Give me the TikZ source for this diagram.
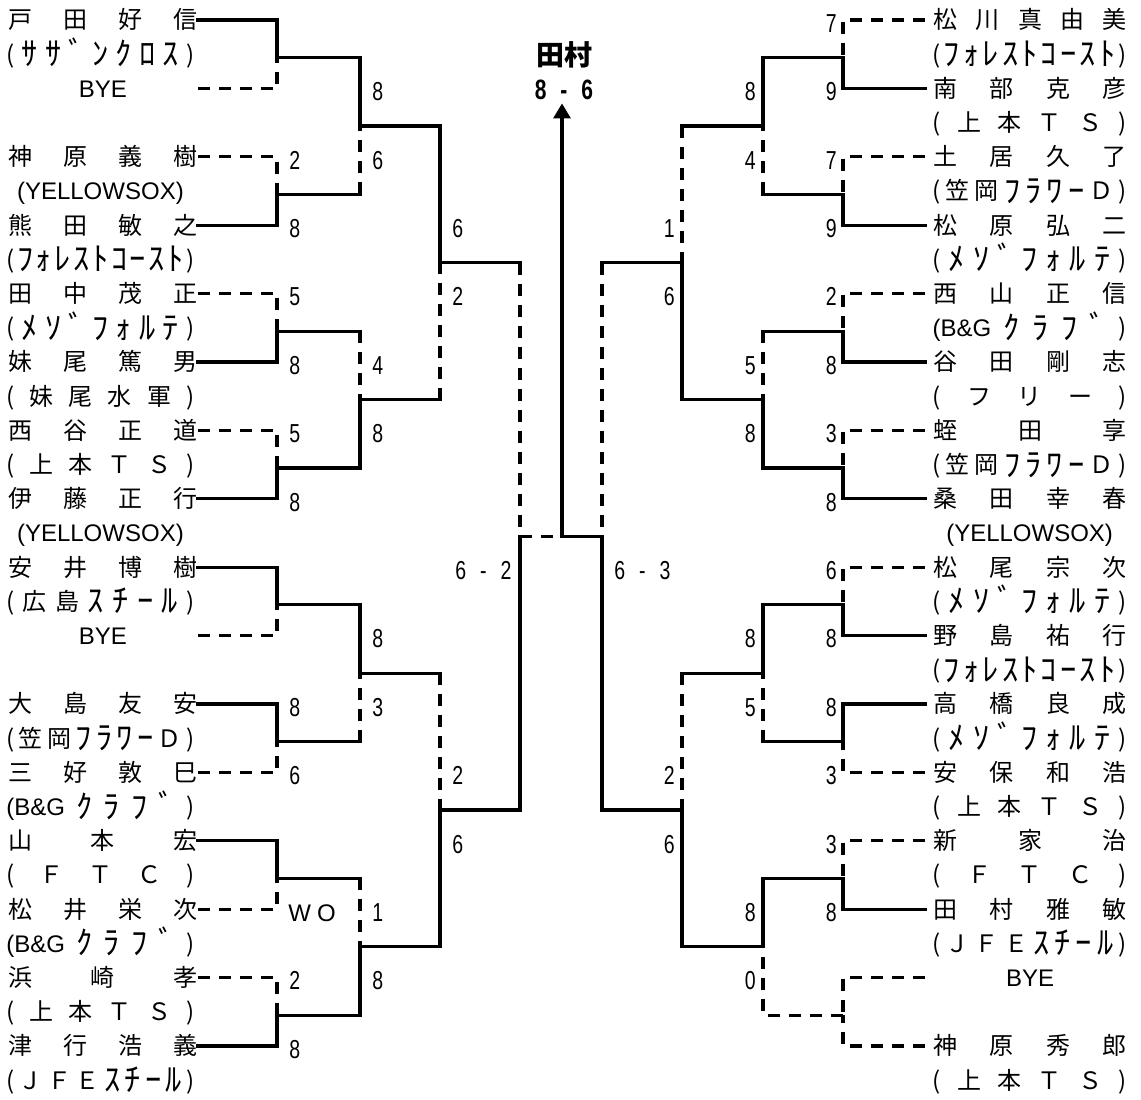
\documentclass[tikz,border=0pt]{standalone}
\usepackage{fontspec}
\setmainfont{Noto Sans CJK JP}
\newfontfamily\latinf{Liberation Sans}
\newfontfamily\numf[FakeStretch=0.75]{Liberation Sans}
\newfontfamily\hkfont[Scale=1.35]{Noto Sans CJK JP}
\usetikzlibrary{arrows.meta}

% spread the letters of a name over the whole box
\newcommand\spreadtext[1]{\makebox[\linewidth]{\sprfirst#1\relax}}
\def\sprput#1{\ifcat\relax\noexpand#1#1\else\ifnum`#1>"FF60 \raisebox{-1.3pt}{\hkfont#1}\else#1\fi\fi}
\def\sprfirst#1{\ifx\relax#1\else\sprput#1\expandafter\sprrest\fi}
\def\sprrest#1{\ifx\relax#1\else\hfill\sprput#1\expandafter\sprrest\fi}
\newcommand\bandg{{\latinf(B\&G}}

\tikzset{
	won/.style={
			line width=1.6pt,
			line cap=rect
		},
	lost/.style={
			line width=1.6pt,
			dash pattern=on 6pt off 4.5pt
		},
	lname/.style={
			anchor=west,
			inner sep=0pt,
			text width=94.5pt,
			align=center,
			text height=10pt,
			text depth=1.2pt,
			font=\fontsize{12}{14}\selectfont
		},
	rname/.style={
			lname,
			anchor=east,
			inner xsep=4pt,
			text width=96.5pt
		},
	lteam/.style={
			lname,
			text width=94pt
		},
	rteam/.style={
			lname,
			anchor=east,
			text width=97pt
		},
	lnum/.style={
			anchor=west,
			inner sep=0pt,
			text height=9.3pt,
			text depth=0pt,
			yshift=-1.5pt,
			font=\numf\fontsize{13}{13}\selectfont
		},
	rnum/.style={
			lnum,
			anchor=east
		}
}

\begin{document}
\begin{tikzpicture}[x=0.5pt, y=-17.1pt]
\useasboundingbox (0,-0.585) rectangle (1141,31.55);

% left players
\node[lname] (L0) at (8,0) {\spreadtext{戸田好信}};
\node[lteam] (lt1) at (6,1) {\spreadtext{(ｻｻﾞﾝｸﾛｽ)}};
\node[lname] (L2) at (8,2) {\latinf BYE};
\node[lname] (L4) at (8,4) {\spreadtext{神原義樹}};
\node[lteam] (lt5) at (6,5) {\latinf (YELLOWSOX)};
\node[lname] (L6) at (8,6) {\spreadtext{熊田敏之}};
\node[lteam] (lt7) at (6,7) {\spreadtext{(ﾌｫﾚｽﾄｺｰｽﾄ)}};
\node[lname] (L8) at (8,8) {\spreadtext{田中茂正}};
\node[lteam] (lt9) at (6,9) {\spreadtext{(ﾒｿﾞﾌｫﾙﾃ)}};
\node[lname] (L10) at (8,10) {\spreadtext{妹尾篤男}};
\node[lteam] (lt11) at (6,11) {\spreadtext{(妹尾水軍)}};
\node[lname] (L12) at (8,12) {\spreadtext{西谷正道}};
\node[lteam] (lt13) at (6,13) {\spreadtext{(上本ＴＳ)}};
\node[lname] (L14) at (8,14) {\spreadtext{伊藤正行}};
\node[lteam] (lt15) at (6,15) {\latinf (YELLOWSOX)};
\node[lname] (L16) at (8,16) {\spreadtext{安井博樹}};
\node[lteam] (lt17) at (6,17) {\spreadtext{(広島ｽﾁｰﾙ)}};
\node[lname] (L18) at (8,18) {\latinf BYE};
\node[lname] (L20) at (8,20) {\spreadtext{大島友安}};
\node[lteam] (lt21) at (6,21) {\spreadtext{(笠岡ﾌﾗﾜｰＤ)}};
\node[lname] (L22) at (8,22) {\spreadtext{三好敦巳}};
\node[lteam] (lt23) at (6,23) {\spreadtext{\bandg ｸﾗﾌﾞ)}};
\node[lname] (L24) at (8,24) {\spreadtext{山本宏}};
\node[lteam] (lt25) at (6,25) {\spreadtext{(ＦＴＣ)}};
\node[lname] (L26) at (8,26) {\spreadtext{松井栄次}};
\node[lteam] (lt27) at (6,27) {\spreadtext{\bandg ｸﾗﾌﾞ)}};
\node[lname] (L28) at (8,28) {\spreadtext{浜崎孝}};
\node[lteam] (lt29) at (6,29) {\spreadtext{(上本ＴＳ)}};
\node[lname] (L30) at (8,30) {\spreadtext{津行浩義}};
\node[lteam] (lt31) at (6,31) {\spreadtext{(ＪＦＥｽﾁｰﾙ)}};

% right players
\node[rname] (R0) at (1135,0) {\spreadtext{松川真由美}};
\node[rteam] (rt1) at (1127,1) {\spreadtext{(ﾌｫﾚｽﾄｺｰｽﾄ)}};
\node[rname] (R2) at (1135,2) {\spreadtext{南部克彦}};
\node[rteam] (rt3) at (1127,3) {\spreadtext{(上本ＴＳ)}};
\node[rname] (R4) at (1135,4) {\spreadtext{土居久了}};
\node[rteam] (rt5) at (1127,5) {\spreadtext{(笠岡ﾌﾗﾜｰＤ)}};
\node[rname] (R6) at (1135,6) {\spreadtext{松原弘二}};
\node[rteam] (rt7) at (1127,7) {\spreadtext{(ﾒｿﾞﾌｫﾙﾃ)}};
\node[rname] (R8) at (1135,8) {\spreadtext{西山正信}};
\node[rteam] (rt9) at (1127,9) {\spreadtext{\bandg ｸﾗﾌﾞ)}};
\node[rname] (R10) at (1135,10) {\spreadtext{谷田剛志}};
\node[rteam] (rt11) at (1127,11) {\spreadtext{(フリー)}};
\node[rname] (R12) at (1135,12) {\spreadtext{蛭田享}};
\node[rteam] (rt13) at (1127,13) {\spreadtext{(笠岡ﾌﾗﾜｰＤ)}};
\node[rname] (R14) at (1135,14) {\spreadtext{桑田幸春}};
\node[rteam] (rt15) at (1127,15) {\latinf (YELLOWSOX)};
\node[rname] (R16) at (1135,16) {\spreadtext{松尾宗次}};
\node[rteam] (rt17) at (1127,17) {\spreadtext{(ﾒｿﾞﾌｫﾙﾃ)}};
\node[rname] (R18) at (1135,18) {\spreadtext{野島祐行}};
\node[rteam] (rt19) at (1127,19) {\spreadtext{(ﾌｫﾚｽﾄｺｰｽﾄ)}};
\node[rname] (R20) at (1135,20) {\spreadtext{高橋良成}};
\node[rteam] (rt21) at (1127,21) {\spreadtext{(ﾒｿﾞﾌｫﾙﾃ)}};
\node[rname] (R22) at (1135,22) {\spreadtext{安保和浩}};
\node[rteam] (rt23) at (1127,23) {\spreadtext{(上本ＴＳ)}};
\node[rname] (R24) at (1135,24) {\spreadtext{新家治}};
\node[rteam] (rt25) at (1127,25) {\spreadtext{(ＦＴＣ)}};
\node[rname] (R26) at (1135,26) {\spreadtext{田村雅敏}};
\node[rteam] (rt27) at (1127,27) {\spreadtext{(ＪＦＥｽﾁｰﾙ)}};
\node[rname] (R28) at (1135,28) {\latinf BYE};
\node[rname] (R30) at (1135,30) {\spreadtext{神原秀郎}};
\node[rteam] (rt31) at (1127,31) {\spreadtext{(上本ＴＳ)}};

% junctions
\coordinate (la1) at (277,1.1);
\coordinate (la5) at (277,5.1);
\coordinate (la9) at (277,9.1);
\coordinate (la13) at (277,13.1);
\coordinate (la17) at (277,17.1);
\coordinate (la21) at (277,21.1);
\coordinate (la25) at (277,25.1);
\coordinate (la29) at (277,29.1);
\coordinate (lb3) at (360,3.1);
\coordinate (lb11) at (360,11.1);
\coordinate (lb19) at (360,19.1);
\coordinate (lb27) at (360,27.1);
\coordinate (lc7) at (440,7.1);
\coordinate (lc23) at (440,23.1);
\coordinate (ld15) at (520,15.1);
\coordinate (fin) at (562,15.1);
\coordinate (rd15) at (602,15.1);
\coordinate (rc7) at (682,7.1);
\coordinate (rc23) at (682,23.1);
\coordinate (rb3) at (763,3.1);
\coordinate (rb11) at (763,11.1);
\coordinate (rb19) at (763,19.1);
\coordinate (rb27) at (763,27.1);
\coordinate (ra1) at (843,1.1);
\coordinate (ra5) at (843,5.1);
\coordinate (ra9) at (843,9.1);
\coordinate (ra13) at (843,13.1);
\coordinate (ra17) at (843,17.1);
\coordinate (ra21) at (843,21.1);
\coordinate (ra25) at (843,25.1);
\coordinate (ra29) at (843,29.1);

% left bracket
\draw[won] (L0.east) -| (la1);
\draw[lost] (L2.east) -| (la1);
\draw[lost] (L4.east) -| (la5);
\draw[won] (L6.east) -| (la5);
\draw[lost] (L8.east) -| (la9);
\draw[won] (L10.east) -| (la9);
\draw[lost] (L12.east) -| (la13);
\draw[won] (L14.east) -| (la13);
\draw[won] (L16.east) -| (la17);
\draw[lost] (L18.east) -| (la17);
\draw[won] (L20.east) -| (la21);
\draw[lost] (L22.east) -| (la21);
\draw[won] (L24.east) -| (la25);
\draw[lost] (L26.east) -| (la25);
\draw[lost] (L28.east) -| (la29);
\draw[won] (L30.east) -| (la29);

\draw[won] (la1) -| (lb3);
\draw[won] (la5) -- (la5 -| lb3);
\draw[lost] (la5 -| lb3) -- (lb3);
\draw[won] (la9) -- (la9 -| lb11);
\draw[lost] (la9 -| lb11) -- (lb11);
\draw[won] (la13) -| (lb11);
\draw[won] (la17) -| (lb19);
\draw[won] (la21) -- (la21 -| lb19);
\draw[lost] (la21 -| lb19) -- (lb19);
\draw[won] (la25) -- (la25 -| lb27);
\draw[lost] (la25 -| lb27) -- (lb27);
\draw[won] (la29) -| (lb27);

\draw[won] (lb3) -| (lc7);
\draw[won] (lb11) -- (lb11 -| lc7);
\draw[lost] (lb11 -| lc7) -- (lc7);
\draw[won] (lb19) -- (lb19 -| lc23);
\draw[lost] (lb19 -| lc23) -- (lc23);
\draw[won] (lb27) -| (lc23);

\draw[won] (lc7) -- (lc7 -| ld15);
\draw[lost] (lc7 -| ld15) -- (ld15);
\draw[won] (lc23) -| (ld15);
\draw[lost] (ld15) -- (fin);

% right bracket
\draw[lost] (R0.west) -| (ra1);
\draw[won] (R2.west) -| (ra1);
\draw[lost] (R4.west) -| (ra5);
\draw[won] (R6.west) -| (ra5);
\draw[lost] (R8.west) -| (ra9);
\draw[won] (R10.west) -| (ra9);
\draw[lost] (R12.west) -| (ra13);
\draw[won] (R14.west) -| (ra13);
\draw[lost] (R16.west) -| (ra17);
\draw[won] (R18.west) -| (ra17);
\draw[won] (R20.west) -| (ra21);
\draw[lost] (R22.west) -| (ra21);
\draw[lost] (R24.west) -| (ra25);
\draw[won] (R26.west) -| (ra25);
\draw[lost] (R28.west) -| (ra29);
\draw[lost] (R30.west) -| (ra29);

\draw[won] (ra1) -| (rb3);
\draw[won] (ra5) -- (ra5 -| rb3);
\draw[lost] (ra5 -| rb3) -- (rb3);
\draw[won] (ra9) -- (ra9 -| rb11);
\draw[lost] (ra9 -| rb11) -- (rb11);
\draw[won] (ra13) -| (rb11);
\draw[won] (ra17) -| (rb19);
\draw[won] (ra21) -- (ra21 -| rb19);
\draw[lost] (ra21 -| rb19) -- (rb19);
\draw[won] (ra25) -| (rb27);
\draw[lost] (ra29) -| (rb27);

\draw[won] (rb3) -- (rb3 -| rc7);
\draw[lost] (rb3 -| rc7) -- (rc7);
\draw[won] (rb11) -| (rc7);
\draw[won] (rb19) -- (rb19 -| rc23);
\draw[lost] (rb19 -| rc23) -- (rc23);
\draw[won] (rb27) -| (rc23);

\draw[won] (rc7) -- (rc7 -| rd15);
\draw[lost] (rc7 -| rd15) -- (rd15);
\draw[won] (rc23) -| (rd15);
\draw[won] (rd15) -- (fin);

% final
\node[inner sep=0pt, font=\bfseries\fontsize{14}{16}\selectfont] (champ) at (564,1.02) {田村};
\node[inner sep=1.5pt, font=\numf\bfseries\fontsize{14}{14}\selectfont] (fscore) at (564,2.05) {8\hspace{7pt}-\hspace{7pt}6};
\draw[won, -{Triangle[width=8.5pt, length=7.5pt]}] (fin) -- (fin |- fscore.south);

% left scores
\node[lnum] (lsa4) at (289,4) {2};
\node[lnum] (lsa6) at (289,6) {8};
\node[lnum] (lsa8) at (289,8) {5};
\node[lnum] (lsa10) at (289,10) {8};
\node[lnum] (lsa12) at (289,12) {5};
\node[lnum] (lsa14) at (289,14) {8};
\node[lnum] (lsa20) at (289,20) {8};
\node[lnum] (lsa22) at (289,22) {6};
\node[lnum, font=\latinf\fontsize{12}{12}\selectfont] (lsa26) at (288,26) {W\hspace{3pt}O};
\node[lnum] (lsa28) at (289,28) {2};
\node[lnum] (lsa30) at (289,30) {8};
\node[lnum] (lsb2) at (372,2) {8};
\node[lnum] (lsb4) at (372,4) {6};
\node[lnum] (lsb10) at (372,10) {4};
\node[lnum] (lsb12) at (372,12) {8};
\node[lnum] (lsb18) at (372,18) {8};
\node[lnum] (lsb20) at (372,20) {3};
\node[lnum] (lsb26) at (372,26) {1};
\node[lnum] (lsb28) at (372,28) {8};
\node[lnum] (lsc6) at (452,6) {6};
\node[lnum] (lsc8) at (452,8) {2};
\node[lnum] (lsc22) at (452,22) {2};
\node[lnum] (lsc24) at (452,24) {6};
\node[rnum] (lsd16) at (512,16) {6\hspace{7pt}-\hspace{7pt}2};

% right scores
\node[rnum] (rsa0) at (837,0) {7};
\node[rnum] (rsa2) at (837,2) {9};
\node[rnum] (rsa4) at (837,4) {7};
\node[rnum] (rsa6) at (837,6) {9};
\node[rnum] (rsa8) at (837,8) {2};
\node[rnum] (rsa10) at (837,10) {8};
\node[rnum] (rsa12) at (837,12) {3};
\node[rnum] (rsa14) at (837,14) {8};
\node[rnum] (rsa16) at (837,16) {6};
\node[rnum] (rsa18) at (837,18) {8};
\node[rnum] (rsa20) at (837,20) {8};
\node[rnum] (rsa22) at (837,22) {3};
\node[rnum] (rsa24) at (837,24) {3};
\node[rnum] (rsa26) at (837,26) {8};
\node[rnum] (rsb2) at (756,2) {8};
\node[rnum] (rsb4) at (756,4) {4};
\node[rnum] (rsb10) at (756,10) {5};
\node[rnum] (rsb12) at (756,12) {8};
\node[rnum] (rsb18) at (756,18) {8};
\node[rnum] (rsb20) at (756,20) {5};
\node[rnum] (rsb26) at (756,26) {8};
\node[rnum] (rsb28) at (756,28) {0};
\node[rnum] (rsc6) at (675,6) {1};
\node[rnum] (rsc8) at (675,8) {6};
\node[rnum] (rsc22) at (675,22) {2};
\node[rnum] (rsc24) at (675,24) {6};
\node[lnum] (rsd16) at (614,16) {6\hspace{7pt}-\hspace{7pt}3};
\end{tikzpicture}
\end{document}
